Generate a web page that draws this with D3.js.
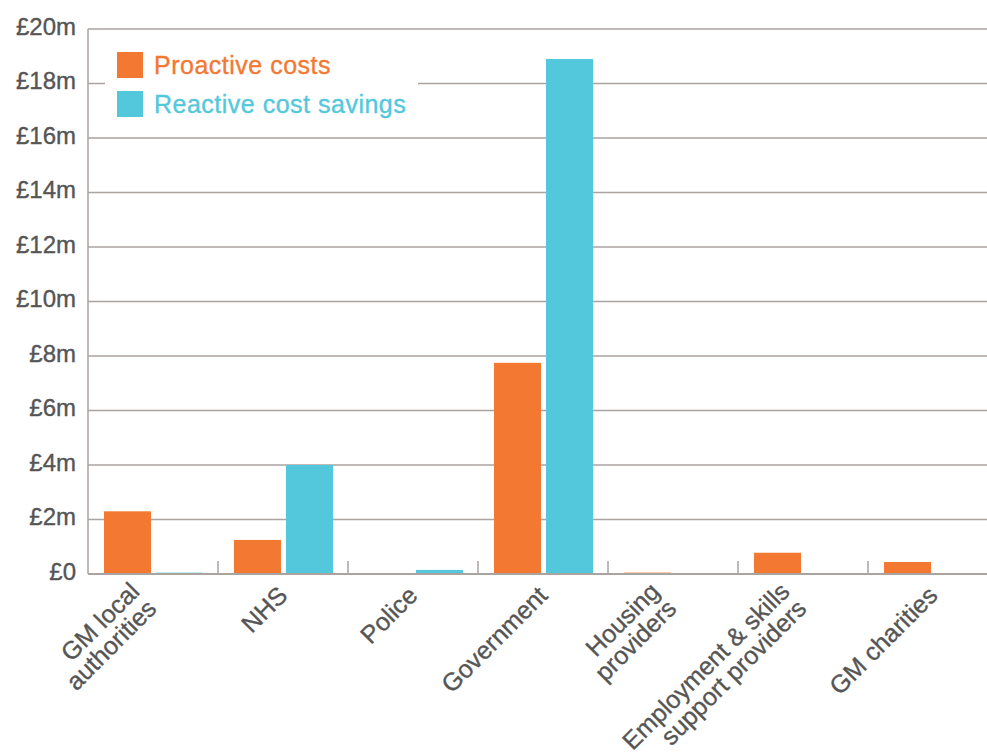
<!DOCTYPE html>
<html>
<head>
<meta charset="utf-8">
<script src="https://cdn.jsdelivr.net/npm/d3@7"></script>
<style>
  html, body { margin: 0; padding: 0; background: #fff; }
  svg { display: block; font-family: "Liberation Sans", Arial, Helvetica, sans-serif; }
  text { stroke-width: 0.35px; paint-order: stroke; }
</style>
</head>
<body>
<svg id="chart" width="987" height="756"></svg>
<script>
// Cost split by organisation (£ millions)
const categories = [
  ["GM local", "authorities"],
  ["NHS"],
  ["Police"],
  ["Government"],
  ["Housing", "providers"],
  ["Employment & skills", "support providers"],
  ["GM charities"]
];
const seriesNames = ["Proactive costs", "Reactive cost savings"];
const proactiveCosts = [2.3, 1.25, 0, 7.75, 0.05, 0.78, 0.44];
const reactiveSavings = [0.05, 4.0, 0.15, 18.9, 0, 0, 0];
const yTicks = [0, 2, 4, 6, 8, 10, 12, 14, 16, 18, 20];
const yTickLabels = ["£0", "£2m", "£4m", "£6m", "£8m", "£10m", "£12m", "£14m", "£16m", "£18m", "£20m"];

const colors = ["#F37932", "#53C8DC"];
const textColor = "#555555";
const gridColor = "#AAA39F";

const svg = d3.select("#chart");
const W = 987;
const plotLeft = 88, plotRight = 998, plotTop = 29, plotBottom = 574;

const keys = categories.map(c => c.join(" "));
const rows = keys.map((k, i) => ({ key: k, lines: categories[i], values: [proactiveCosts[i], reactiveSavings[i]] }));

const x = d3.scaleBand().domain(keys).range([plotLeft, plotRight]).paddingInner(0).paddingOuter(0);
const xInner = d3.scaleBand().domain(seriesNames).range([16, 115]).paddingInner(5 / 52);
const y = d3.scaleLinear().domain([0, 20]).range([plotBottom, plotTop]);

// horizontal gridlines
svg.append("g").selectAll("line")
  .data(yTicks.filter(t => t > 0))
  .join("line")
  .attr("x1", plotLeft).attr("x2", W)
  .attr("y1", d => y(d)).attr("y2", d => y(d))
  .attr("stroke", gridColor).attr("stroke-width", 1.5);

// y tick labels
svg.append("g").selectAll("text")
  .data(yTicks)
  .join("text")
  .attr("x", 76)
  .attr("y", d => y(d) + 5.5)
  .attr("text-anchor", "end")
  .attr("font-size", 24)
  .attr("fill", textColor)
  .attr("stroke", textColor)
  .text((d, i) => yTickLabels[i]);

// bars
const groups = svg.append("g").selectAll("g")
  .data(rows)
  .join("g")
  .attr("transform", d => `translate(${x(d.key)},0)`);

groups.selectAll("rect")
  .data(d => d.values.map((v, j) => ({ name: seriesNames[j], value: v, j })))
  .join("rect")
  .attr("x", d => xInner(d.name))
  .attr("width", xInner.bandwidth())
  .attr("y", d => y(d.value))
  .attr("height", d => y(0) - y(d.value))
  .attr("fill", d => colors[d.j]);

// y axis line
svg.append("line")
  .attr("x1", plotLeft).attr("x2", plotLeft)
  .attr("y1", plotTop).attr("y2", plotBottom)
  .attr("stroke", gridColor).attr("stroke-width", 1.5);

// category separator ticks
svg.append("g").selectAll("line")
  .data(keys.slice(1))
  .join("line")
  .attr("x1", d => x(d)).attr("x2", d => x(d))
  .attr("y1", plotBottom - 13).attr("y2", plotBottom)
  .attr("stroke", gridColor).attr("stroke-width", 1.5);

// baseline
svg.append("line")
  .attr("x1", plotLeft).attr("x2", W)
  .attr("y1", plotBottom).attr("y2", plotBottom)
  .attr("stroke", gridColor).attr("stroke-width", 2);

// rotated category labels
const labels = svg.append("g").selectAll("text")
  .data(rows)
  .join("text")
  .attr("transform", d => `translate(${x(d.key) + x.bandwidth() / 2},${plotBottom}) rotate(-45)`)
  .attr("text-anchor", "end")
  .attr("font-size", 25)
  .attr("fill", textColor)
  .attr("stroke", textColor);

labels.each(function (d) {
  const t = d3.select(this);
  const n = d.lines.length;
  d.lines.forEach((line, i) => {
    t.append("tspan")
      .attr("x", n > 1 ? -22 : -12)
      .attr("y", n > 1 ? 5 + i * 24 : 20.5)
      .text(line);
  });
});

// legend
const legend = svg.append("g");
legend.append("rect")
  .attr("x", 105).attr("y", 40).attr("width", 313).attr("height", 86)
  .attr("fill", "#fff");
seriesNames.forEach((name, i) => {
  legend.append("rect")
    .attr("x", 117).attr("y", 52 + i * 39)
    .attr("width", 26).attr("height", 26)
    .attr("fill", colors[i]);
  legend.append("text")
    .attr("x", 154).attr("y", 74 + i * 39)
    .attr("font-size", 25)
    .attr("letter-spacing", 0.5)
    .attr("fill", colors[i])
    .attr("stroke", colors[i])
    .text(name);
});
</script>
</body>
</html>
